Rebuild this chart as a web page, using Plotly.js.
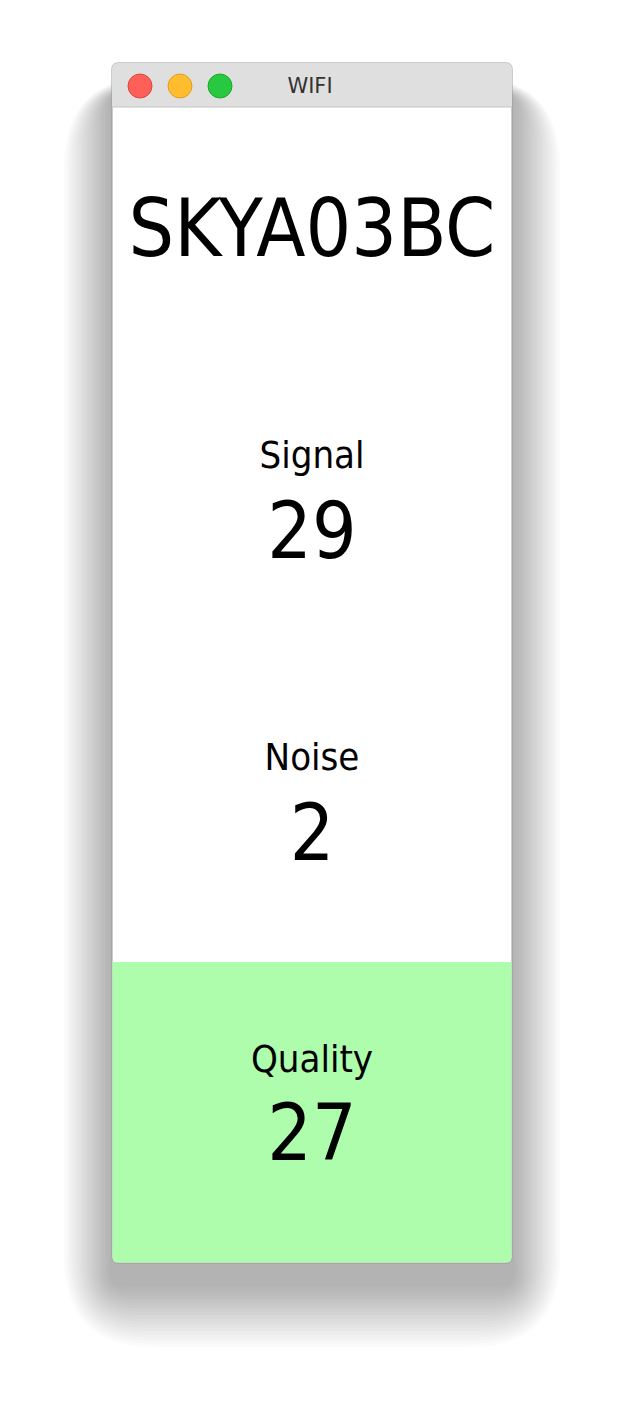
<!DOCTYPE html>
<html><head><meta charset="utf-8">
<script src="https://cdn.plot.ly/plotly-3.0.1.min.js"></script>
<style>html,body{margin:0;padding:0;background:#fff}#c{width:624px;height:1424px}</style>
</head><body><div id="c"></div>
<script>
const windowTitle = "WIFI";
const networkName = "SKYA03BC";
const metricLabels = ["Signal", "Noise", "Quality"];
const metricValues = [29, 2, 27];

const FONT = "Liberation Sans Narrow, DejaVu Sans Condensed, Roboto, sans-serif";
const L = 112, R = 512, T = 63, B = 1263;
function rr(x0, y0, x1, y1, r) {
  return `M${x0+r},${y0} L${x1-r},${y0} Q${x1},${y0} ${x1},${y0+r} L${x1},${y1-r} Q${x1},${y1} ${x1-r},${y1} L${x0+r},${y1} Q${x0},${y1} ${x0},${y1-r} L${x0},${y0+r} Q${x0},${y0} ${x0+r},${y0} Z`;
}
const shapes = [];
for (let i = 20; i >= 1; i--) {
  const s = i * 4;
  shapes.push({type: "path", layer: "below", path: rr(L - s*0.6, T + 30 - s*0.2, R + s*0.6, B + 20 + s*0.8, 10 + s),
    fillcolor: "rgba(0,0,0,0.016)", line: {width: 0}});
}
shapes.push({type: "path", layer: "below", path: rr(L, T, R, B, 6), fillcolor: "#ffffff", line: {color: "#9a9a9a", width: 1}});
shapes.push({type: "path", layer: "below",
  path: `M${L+6},${T} L${R-6},${T} Q${R},${T} ${R},${T+6} L${R},107 L${L},107 L${L},${T+6} Q${L},${T} ${L+6},${T} Z`,
  fillcolor: "#e0dfe0", line: {width: 0}});
shapes.push({type: "line", layer: "below", x0: L, x1: R, y0: 107, y1: 107, line: {color: "#c4c4c4", width: 1}});
shapes.push({type: "path", layer: "below",
  path: `M${L+0.5},962 L${R-0.5},962 L${R-0.5},${B-6} Q${R-0.5},${B-0.5} ${R-6},${B-0.5} L${L+6},${B-0.5} Q${L+0.5},${B-0.5} ${L+0.5},${B-6} Z`,
  fillcolor: "#adfdad", line: {width: 0}});
[["#fe5f57", "#e0443e", 140], ["#febc2e", "#dea123", 180], ["#28c840", "#1aab29", 220]].forEach(([f, l, x]) => {
  shapes.push({type: "circle", layer: "below", x0: x - 12, x1: x + 12, y0: 74, y1: 98, fillcolor: f, line: {color: l, width: 1}});
});

const labelY = [458, 760, 1062];
const valueY = [538, 840, 1140];
const traces = [
  {x: [310], y: [88], text: [windowTitle], mode: "text", textfont: {family: "DejaVu Sans, sans-serif", size: 21, color: "#333"}},
  {x: [312], y: [236], text: [networkName], mode: "text", textfont: {family: FONT, size: 80, color: "#000"}},
  {x: metricLabels.map(() => 312), y: labelY, text: metricLabels, mode: "text", textfont: {family: FONT, size: 38, color: "#000"}},
  {x: metricValues.map(() => 312), y: valueY, text: metricValues.map(String), mode: "text", textfont: {family: FONT, size: 78, color: "#000"}}
];
Plotly.newPlot("c", traces, {
  width: 624, height: 1424, margin: {l: 0, r: 0, t: 0, b: 0}, showlegend: false,
  paper_bgcolor: "#fff", plot_bgcolor: "rgba(0,0,0,0)",
  xaxis: {range: [0, 624], visible: false, fixedrange: true},
  yaxis: {range: [1424, 0], visible: false, fixedrange: true},
  shapes: shapes, hovermode: false
}, {staticPlot: true});
</script></body></html>
